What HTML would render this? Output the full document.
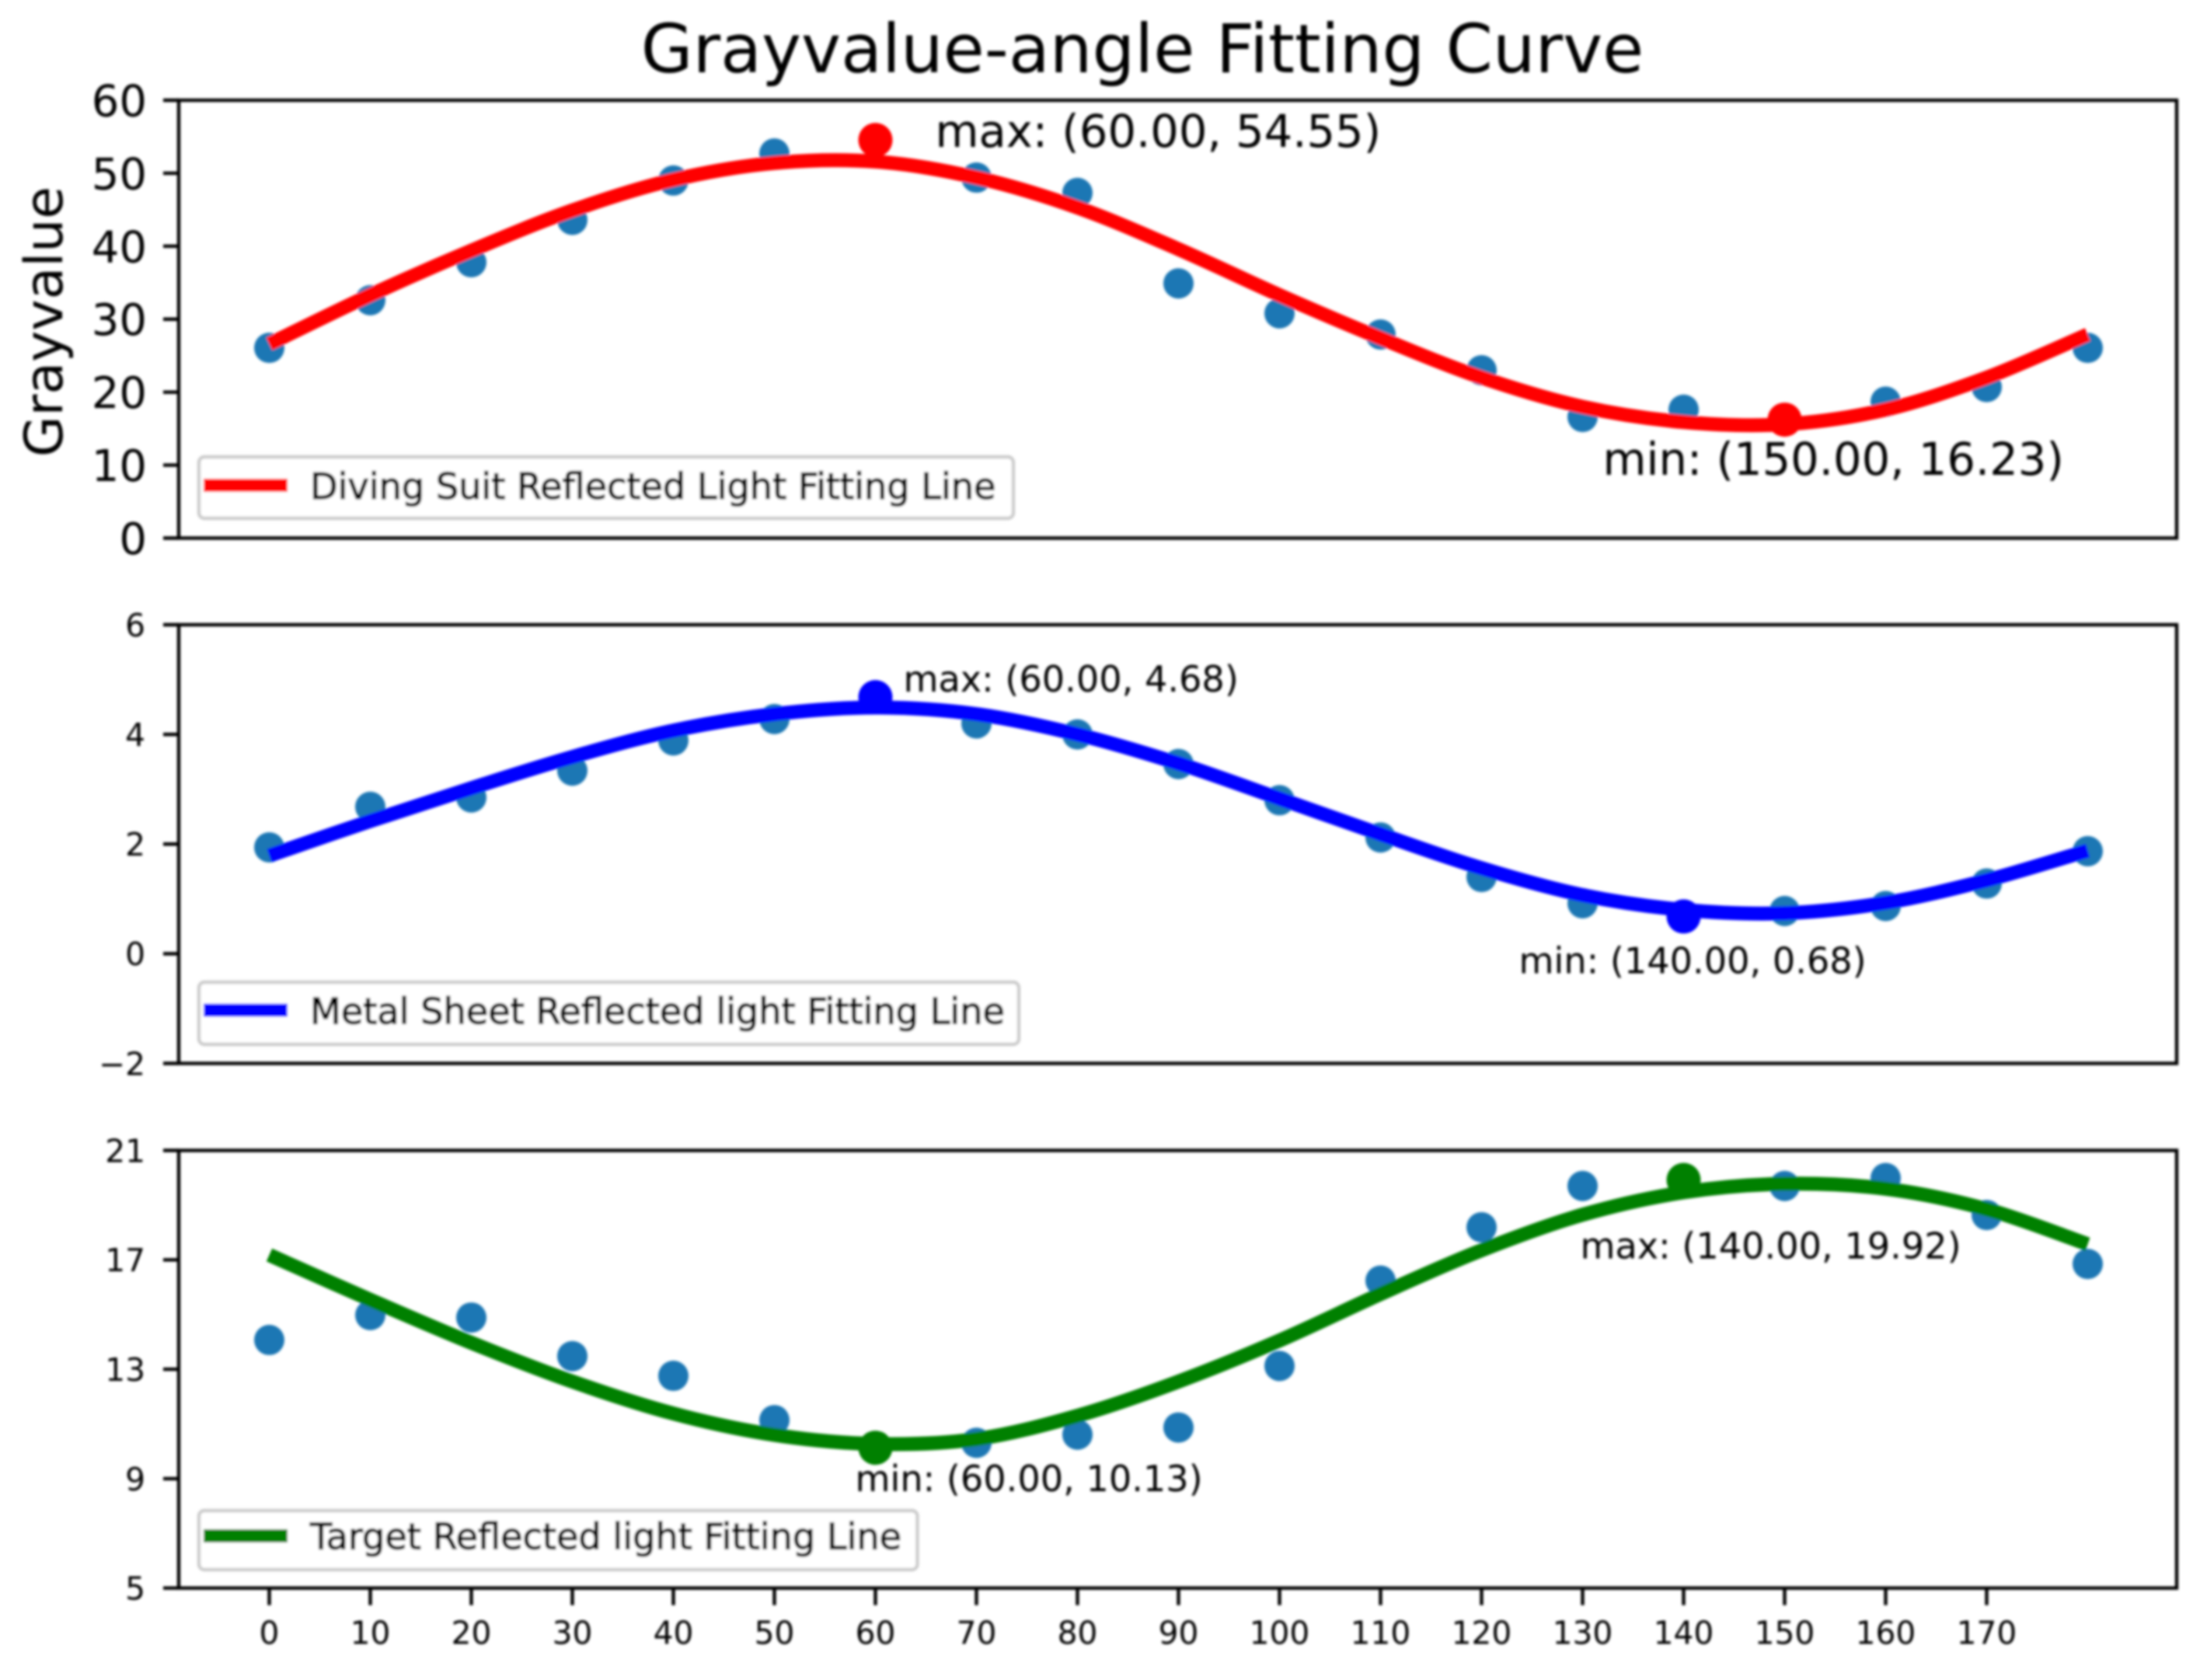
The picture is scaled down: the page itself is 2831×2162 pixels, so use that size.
<!DOCTYPE html>
<html lang="en">
<head>
<meta charset="utf-8">
<title>Grayvalue-angle Fitting Curve</title>
<style>
html,body{margin:0;padding:0;background:#fff;width:2831px;height:2162px;overflow:hidden}
svg{display:block}
text{font-family:"DejaVu Sans","Liberation Sans",sans-serif;fill:#000}
</style>
</head>
<body>
<svg id="chart" xmlns="http://www.w3.org/2000/svg" width="2831" height="2162" viewBox="0 0 2831 2162">
  <defs><filter id="soft" x="-2%" y="-2%" width="104%" height="104%"><feGaussianBlur stdDeviation="1.5"/></filter></defs>
  <g id="root" filter="url(#soft)">
    <text x="1470" y="93" font-size="86.3" text-anchor="middle">Grayvalue-angle Fitting Curve</text>
    <text transform="translate(80,414) rotate(-90)" font-size="68" text-anchor="middle">Grayvalue</text>
  </g>
</svg>
<script>
// Shared categories and tick labels
const angles = [0,10,20,30,40,50,60,70,80,90,100,110,120,130,140,150,160,170,180];
const xTickLabels = [0,10,20,30,40,50,60,70,80,90,100,110,120,130,140,150,160,170];

// Diving suit
const suitPoints = [26.07,32.6,37.8,43.6,49.0,52.7,54.55,49.4,47.3,34.9,30.8,27.9,23.0,16.6,17.6,16.23,18.7,20.7,26.07];
const suitFit = [26.6,33.3,39.4,44.9,49.1,51.4,51.6,49.4,45.3,39.6,33.3,27.4,22.0,18.0,15.9,15.6,17.6,22.0,27.9];
const suitTicks = [0,10,20,30,40,50,60];
const suitMax = [60,54.55];
const suitMin = [150,16.23];

// Metal sheet
const metalPoints = [1.94,2.68,2.85,3.34,3.89,4.28,4.68,4.2,4.0,3.46,2.8,2.12,1.4,0.92,0.68,0.78,0.87,1.28,1.87];
const metalFit = [1.79,2.42,3.02,3.59,4.07,4.37,4.49,4.37,4.0,3.47,2.83,2.18,1.56,1.07,0.80,0.74,0.93,1.34,1.88];
const metalTicks = [-2,0,2,4,6];
const metalMax = [60,4.68];
const metalMin = [140,0.68];

// Target
const targetPoints = [14.07,14.98,14.89,13.48,12.76,11.14,10.13,10.31,10.61,10.87,13.12,16.24,18.19,19.70,19.92,19.7,19.99,18.64,16.85];
const targetFit = [17.18,15.54,13.97,12.55,11.38,10.6,10.27,10.45,11.3,12.55,14.05,15.75,17.35,18.65,19.47,19.78,19.6,18.85,17.57];
const targetTicks = [5,9,13,17,21];
const targetMax = [140,19.92];
const targetMin = [60,10.13];

const NS = 'http://www.w3.org/2000/svg';
const root = document.getElementById('root');
const AX_LEFT = 230, AX_RIGHT = 2801;
function xScale(v){ return 346.5 + v * 13.0; }

function make(tag, attrs, parent, txt){
  const n = document.createElementNS(NS, tag);
  for (const k in attrs) n.setAttribute(k, attrs[k]);
  if (txt !== undefined) n.textContent = txt;
  parent.appendChild(n);
  return n;
}
function smoothPath(xs, ys){
  let d = 'M' + xs[0].toFixed(1) + ' ' + ys[0].toFixed(1);
  for (let i = 0; i < xs.length - 1; i++){
    const i0 = Math.max(i - 1, 0), i3 = Math.min(i + 2, xs.length - 1);
    const c1x = xs[i] + (xs[i+1] - xs[i0]) / 6, c1y = ys[i] + (ys[i+1] - ys[i0]) / 6;
    const c2x = xs[i+1] - (xs[i3] - xs[i]) / 6, c2y = ys[i+1] - (ys[i3] - ys[i]) / 6;
    d += 'C' + c1x.toFixed(1) + ' ' + c1y.toFixed(1) + ' ' + c2x.toFixed(1) + ' ' + c2y.toFixed(1) + ' ' + xs[i+1].toFixed(1) + ' ' + ys[i+1].toFixed(1);
  }
  return d;
}
function fmtTick(v){ return v < 0 ? '\u2212' + Math.abs(v) : String(v); }

function drawPanel(cfg){
  const g = make('g', {}, root);
  
  
  const yMin = cfg.ticks[0], yMax = cfg.ticks[cfg.ticks.length - 1];
  const yScale = v => cfg.bottom - (v - yMin) / (yMax - yMin) * (cfg.bottom - cfg.top);

  // Scatter
  cfg.points.forEach((v, i) => {
    const c = make('circle', {cx: xScale(angles[i]), cy: yScale(v), r: 19.5, fill: '#1f77b4'}, g);
    
    
  });

  // Fit line
  const line = make('path', {d: smoothPath(angles.map(xScale), cfg.fit.map(yScale)), fill: 'none', stroke: cfg.color, 'stroke-width': 18}, g);
  
  

  // Highlights and annotations
  [['max', cfg.max, cfg.maxOffset], ['min', cfg.min, cfg.minOffset]].forEach(a => {
    const label = a[0], p = a[1], off = a[2];
    const c = make('circle', {cx: xScale(p[0]), cy: yScale(p[1]), r: 22, fill: cfg.color}, g);
    
    
    const t = make('text', {x: xScale(p[0]) + off[0], y: yScale(p[1]) + off[1], 'font-size': cfg.noteSize},
      g, label + ': (' + p[0].toFixed(2) + ', ' + p[1].toFixed(2) + ')');
    
    
  });

  // Spines
  const frame = make('rect', {x: AX_LEFT, y: cfg.top, width: AX_RIGHT - AX_LEFT, height: cfg.bottom - cfg.top, fill: 'none', stroke: '#000', 'stroke-width': 4.4}, g);
  
  

  // Y ticks
  cfg.ticks.forEach(v => {
    const y = yScale(v);
    const tk = make('line', {x1: AX_LEFT - 20, x2: AX_LEFT, y1: y, y2: y, stroke: '#000', 'stroke-width': 4.4}, g);
    
    
    const t = make('text', {x: cfg.tickRight, y: y + cfg.tickSize * 0.365, 'font-size': cfg.tickSize, 'text-anchor': 'end'}, g, fmtTick(v));
    
    
  });

  // Legend
  const lg = make('g', {}, g);
  
  
  const box = make('rect', {x: 256, y: cfg.legend.top, width: cfg.legend.width, height: cfg.legend.height, rx: 7, fill: '#fff', stroke: '#ccc', 'stroke-width': 4.4}, lg);
  
  
  const sw = make('line', {x1: 262, x2: 370, y1: cfg.legend.lineY, y2: cfg.legend.lineY, stroke: cfg.color, 'stroke-width': 17}, lg);
  
  
  const lt = make('text', {x: 399, y: cfg.legend.baseline, 'font-size': 46.2, stroke: '#000', 'stroke-width': 1.2}, lg, cfg.label);
  
  

  return g;
}

drawPanel({key:'diving-suit', color:'#ff0000', top:129, bottom:692.5, ticks:suitTicks, points:suitPoints, fit:suitFit,
  max:suitMax, min:suitMin, maxOffset:[77,9], minOffset:[-234,71], noteSize:57.5, tickSize:56, tickRight:189,
  label:'Diving Suit Reflected Light Fitting Line', legend:{top:588,width:1048,height:79,lineY:624.5,baseline:642}});

drawPanel({key:'metal-sheet', color:'#0000ff', top:804, bottom:1368.5, ticks:metalTicks, points:metalPoints, fit:metalFit,
  max:metalMax, min:metalMin, maxOffset:[36,-7], minOffset:[-212,73], noteSize:46.2, tickSize:40.7, tickRight:187,
  label:'Metal Sheet Reflected light Fitting Line', legend:{top:1264,width:1055,height:80,lineY:1300,baseline:1317.6}});

const targetPanel = drawPanel({key:'target', color:'#008000', top:1480.5, bottom:2043.7, ticks:targetTicks, points:targetPoints, fit:targetFit,
  max:targetMax, min:targetMin, maxOffset:[-133,101], minOffset:[-26,56], noteSize:46.2, tickSize:40.7, tickRight:187,
  label:'Target Reflected light Fitting Line', legend:{top:1944,width:924.5,height:76,lineY:1976.5,baseline:1993.7}});

// Shared x axis on the bottom panel
xTickLabels.forEach(v => {
  const x = xScale(v);
  const tk = make('line', {x1: x, x2: x, y1: 2043.7, y2: 2065.7, stroke: '#000', 'stroke-width': 4.4}, targetPanel);
  
  
  const t = make('text', {x: x, y: 2115.5, 'font-size': 40.7, 'text-anchor': 'middle'}, targetPanel, String(v));
  
  
});
</script>
</body>
</html>
